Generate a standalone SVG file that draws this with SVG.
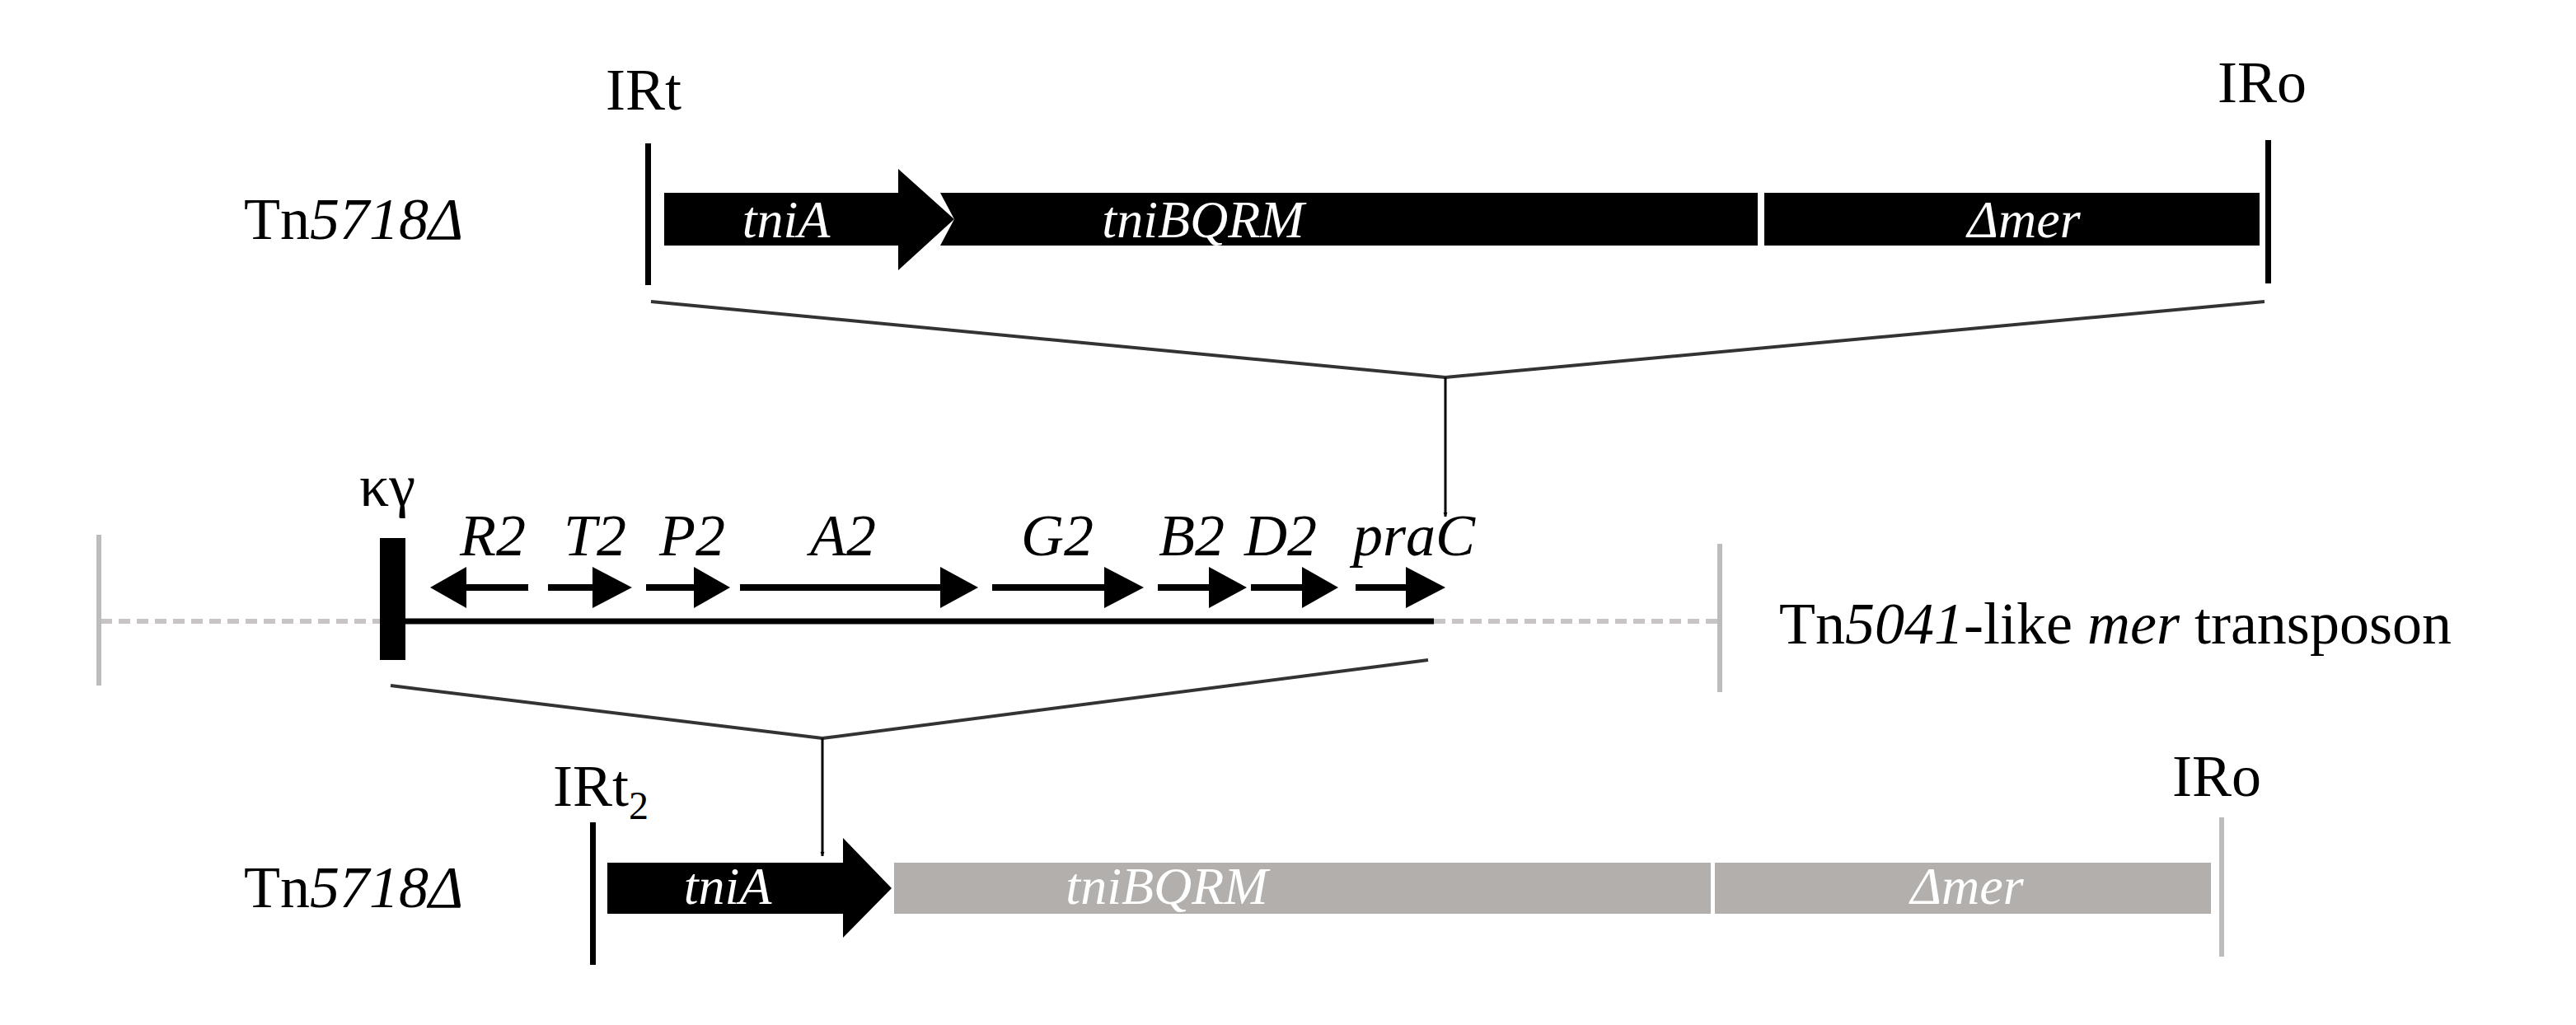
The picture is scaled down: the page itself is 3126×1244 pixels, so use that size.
<svg xmlns="http://www.w3.org/2000/svg" width="3126" height="1244" viewBox="0 0 3126 1244">
<style>
text{font-family:"Liberation Serif","DejaVu Serif",serif;font-size:72px;fill:#000}
.i{font-style:italic}
.w{fill:#fff;font-style:italic;font-size:64px}
.ln{stroke:#333;stroke-width:4;fill:none}
.gr{stroke:#bcbcbc;stroke-width:6}
.gd{stroke:#c8c4c4;stroke-width:6;stroke-dasharray:14 8}
</style>
<defs>
<marker id="ah" viewBox="0 0 10 10" refX="10" refY="5" markerWidth="5" markerHeight="6" markerUnits="userSpaceOnUse" orient="auto"><path d="M0,0L10,5L0,10z" fill="#000"/></marker>
</defs>
<rect width="3126" height="1244" fill="#fff"/>
<g id="top">
<text x="296" y="290">Tn<tspan class="i">5718Δ</tspan></text>
<text x="735" y="133">IRt</text>
<text x="2691" y="124">IRo</text>
<rect x="783" y="174" width="7" height="172"/>
<rect x="2749" y="170" width="7" height="174"/>
<path d="M806,234H1090V205L1158,266L1090,328V298H806z"/>
<path d="M1141,234H2133V298H1141L1158,266z"/>
<rect x="2141" y="234" width="601" height="64"/>
<text class="w" x="954" y="288" text-anchor="middle">tniA</text>
<text class="w" x="1460" y="288" text-anchor="middle">tniBQRM</text>
<text class="w" x="2456" y="288" text-anchor="middle">Δmer</text>
</g>
<g id="middle">
<text x="436" y="614">κγ</text>
<line class="gd" x1="122" y1="754" x2="461" y2="754"/>
<line class="gd" x1="1740" y1="754" x2="2084" y2="754"/>
<line class="gr" x1="120" y1="649" x2="120" y2="832"/>
<line class="gr" x1="2087" y1="660" x2="2087" y2="840"/>
<rect x="461" y="653" width="31" height="148"/>
<line x1="492" y1="754" x2="1740" y2="754" stroke="#000" stroke-width="7"/>
<g fill="#000">
<path d="M522,713L566,688V709H641V717H566V738z"/>
<path d="M665,709H719V688L767,713L719,738V717H665z"/>
<path d="M784,709H842V688L886,713L842,738V717H784z"/>
<path d="M898,709H1141V688L1187,713L1141,738V717H898z"/>
<path d="M1204,709H1340V688L1388,713L1340,738V717H1204z"/>
<path d="M1405,709H1467V688L1513,713L1467,738V717H1405z"/>
<path d="M1518,709H1580V688L1624,713L1580,738V717H1518z"/>
<path d="M1645,709H1706V688L1754,713L1706,738V717H1645z"/>
</g>
<g class="i" text-anchor="middle">
<text x="598" y="674">R2</text>
<text x="722" y="674">T2</text>
<text x="840" y="674">P2</text>
<text x="1023" y="674">A2</text>
<text x="1283" y="674">G2</text>
<text x="1446" y="674">B2</text>
<text x="1554" y="674">D2</text>
<text x="1716" y="674">praC</text>
</g>
<text x="2159" y="781">Tn<tspan class="i">5041</tspan>-like <tspan class="i">mer</tspan> transposon</text>
</g>
<g id="bottom">
<text x="296" y="1101">Tn<tspan class="i">5718Δ</tspan></text>
<text x="671" y="978">IRt<tspan font-size="48" dy="16">2</tspan></text>
<text x="2636" y="966">IRo</text>
<rect x="716" y="998" width="7" height="173"/>
<line class="gr" x1="2696" y1="992" x2="2696" y2="1161"/>
<path d="M737,1047H1023V1017L1082,1078L1023,1138V1109H737z"/>
<rect x="1085" y="1047" width="991" height="62" fill="#b3afac"/>
<rect x="2081" y="1047" width="602" height="62" fill="#b3afac"/>
<text class="w" x="883" y="1097" text-anchor="middle">tniA</text>
<text class="w" x="1416" y="1097" text-anchor="middle">tniBQRM</text>
<text class="w" x="2387" y="1097" text-anchor="middle">Δmer</text>
</g>
<g id="connectors">
<polyline class="ln" points="790,366 1754,458 2748,366"/>
<line x1="1754" y1="458" x2="1754" y2="627" stroke="#000" stroke-width="3" marker-end="url(#ah)"/>
<polyline class="ln" points="474,832 998,896 1733,801"/>
<line x1="998" y1="896" x2="998" y2="1039" stroke="#000" stroke-width="3" marker-end="url(#ah)"/>
</g>
</svg>
